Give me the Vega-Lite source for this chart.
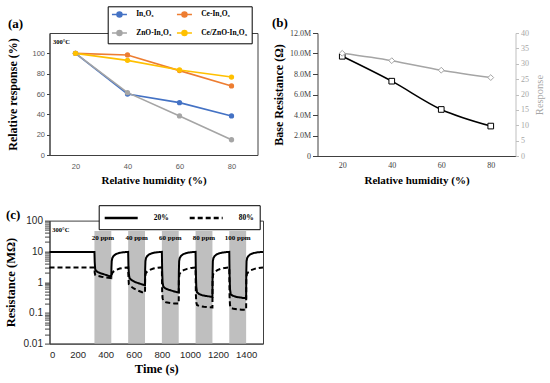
{
  "$schema": "https://vega.github.io/schema/vega-lite/v6.json",
  "background": "white",
  "padding": {"left": 3.5, "top": 5, "right": 0, "bottom": 0},
  "config": {
    "view": {"stroke": null},
    "axis": {"grid": false, "labelOverlap": false, "labelSeparation": 0, "titleFont": "Liberation Serif", "titleFontWeight": "bold", "titleColor": "#000000", "domainColor": "#404040", "tickColor": "#404040"},
    "text": {"font": "Liberation Serif", "fontWeight": "bold", "color": "#000000"}
  },
  "spacing": 17.6,
  "resolve": {"scale": {"color": "independent", "strokeDash": "independent"}, "legend": {"color": "independent", "strokeDash": "independent"}},
  "vconcat": [
    {
      "bounds": "flush",
      "spacing": 60,
      "resolve": {"scale": {"color": "independent"}, "legend": {"color": "independent"}},
      "hconcat": [
        {
          "width": 208,
          "height": 122,
          "view": {"stroke": "#404040", "strokeWidth": 1},
          "encoding": {
            "x": {"field": "rh", "type": "quantitative", "scale": {"domain": [10, 90]},
              "axis": {"values": [20, 40, 60, 80], "labelOverlap": false, "ticks": false, "labelPadding": 7, "labelFont": "Liberation Sans", "labelFontSize": 7.5, "labelColor": "#595959", "title": "Relative humidity (%)", "titleFontSize": 11, "titlePadding": 5}},
            "y": {"field": "v", "type": "quantitative", "scale": {"domain": [0, 120]},
              "axis": {"values": [0, 20, 40, 60, 80, 100], "labelOverlap": false, "tickSize": 3, "labelPadding": 2, "labelFont": "Liberation Sans", "labelFontSize": 7.5, "labelColor": "#595959", "title": "Relative response (%)", "titleFontSize": 12, "titlePadding": 12}}
          },
          "layer": [
            {
              "data": {"values": [
                {"rh": 20, "s": "In₂O₃", "v": 100}, {"rh": 40, "s": "In₂O₃", "v": 60}, {"rh": 60, "s": "In₂O₃", "v": 51.5}, {"rh": 80, "s": "In₂O₃", "v": 38.4},
                {"rh": 20, "s": "Ce-In₂O₃", "v": 100}, {"rh": 40, "s": "Ce-In₂O₃", "v": 98.4}, {"rh": 60, "s": "Ce-In₂O₃", "v": 83}, {"rh": 80, "s": "Ce-In₂O₃", "v": 67.9},
                {"rh": 20, "s": "ZnO-In₂O₃", "v": 100}, {"rh": 40, "s": "ZnO-In₂O₃", "v": 61.3}, {"rh": 60, "s": "ZnO-In₂O₃", "v": 38.4}, {"rh": 80, "s": "ZnO-In₂O₃", "v": 15},
                {"rh": 20, "s": "Ce/ZnO-In₂O₃", "v": 100}, {"rh": 40, "s": "Ce/ZnO-In₂O₃", "v": 93.1}, {"rh": 60, "s": "Ce/ZnO-In₂O₃", "v": 83.6}, {"rh": 80, "s": "Ce/ZnO-In₂O₃", "v": 76.7}
              ]},
              "mark": {"type": "line", "strokeWidth": 1.6, "point": {"filled": true, "size": 28}},
              "encoding": {
                "color": {"field": "s", "type": "nominal",
                  "scale": {"domain": ["In₂O₃", "Ce-In₂O₃", "ZnO-In₂O₃", "Ce/ZnO-In₂O₃"], "range": ["#4472C4", "#ED7D31", "#A5A5A5", "#FFC000"]},
                  "legend": {"orient": "none", "legendX": 58.2, "legendY": -26.7, "title": null, "columns": 2, "direction": "horizontal",
                    "symbolType": "M-3,0L3,0M1,0A1,1,0,1,1,-1,0A1,1,0,1,1,1,0", "symbolSize": 25, "symbolStrokeWidth": 1.5,
                    "symbolOffset": 4, "labelOffset": 13, "columnPadding": 2, "rowPadding": 7, "padding": 4,
                    "strokeColor": "#000000", "fillColor": "#FFFFFF",
                    "labelFont": "Liberation Serif", "labelFontWeight": "bold", "labelFontSize": 7.5, "labelColor": "#000000",
                    "encode": {"symbols": {"update": {"fill": {"scale": "color", "field": "value"}, "stroke": {"scale": "color", "field": "value"}}}}}}
              }
            },
            {
              "data": {"values": [{"rh": 11.3, "v": 111.5, "t": "300°C", "fs": "s"}, {"rh": -5.96, "v": 128.7, "t": "(a)", "fs": "l"}]},
              "mark": {"type": "text", "align": "left", "baseline": "middle"},
              "encoding": {"text": {"field": "t"},
                "size": {"field": "fs", "type": "nominal", "scale": {"domain": ["s", "l"], "range": [6.5, 13]}, "legend": null}}
            }
          ]
        },
        {
          "width": 198,
          "height": 123,
          "view": {"stroke": null},
          "data": {"values": [
            {"rh": 20, "br": 9.73, "resp": 33.4},
            {"rh": 40, "br": 7.3, "resp": 31.0},
            {"rh": 60, "br": 4.54, "resp": 27.9},
            {"rh": 80, "br": 2.92, "resp": 25.5}
          ]},
          "encoding": {
            "x": {"field": "rh", "type": "quantitative", "scale": {"domain": [10, 90]},
              "axis": {"values": [20, 40, 60, 80], "labelOverlap": false, "ticks": false, "labelPadding": 5, "labelFont": "Liberation Serif", "labelFontSize": 8, "labelColor": "#404040", "title": "Relative humidity (%)", "titleFontSize": 11, "titlePadding": 5}}
          },
          "layer": [
            {
              "encoding": {
                "y": {"field": "br", "type": "quantitative", "scale": {"domain": [0, 12]},
                  "axis": {"orient": "left", "values": [0, 2, 4, 6, 8, 10, 12], "labelOverlap": false, "labelExpr": "datum.value == 0 ? '0' : format(datum.value, '.1f') + 'M'", "tickSize": 5, "labelPadding": 2, "labelFont": "Liberation Serif", "labelFontSize": 8, "labelColor": "#404040", "title": "Base Resistance (Ω)", "titleFontSize": 12, "titlePadding": 4}}
              },
              "layer": [
                {"mark": {"type": "line", "color": "#000000", "strokeWidth": 1.5, "interpolate": "monotone"}},
                {"mark": {"type": "point", "shape": "square", "filled": true, "fill": "#FFFFFF", "stroke": "#000000", "strokeWidth": 1, "size": 32, "opacity": 1}},
                {
                  "data": {"values": [{"rh": -8.38, "br": 13.0, "t": "(b)"}]},
                  "mark": {"type": "text", "align": "left", "baseline": "middle", "fontSize": 13},
                  "encoding": {"text": {"field": "t"}}
                }
              ]
            },
            {
              "encoding": {
                "y": {"field": "resp", "type": "quantitative", "scale": {"domain": [0, 40]},
                  "axis": {"orient": "right", "values": [0, 5, 10, 15, 20, 25, 30, 35, 40], "labelOverlap": false, "tickSize": 3, "labelPadding": 2, "labelFont": "Liberation Serif", "labelFontSize": 8, "labelColor": "#A6A6A6", "domainColor": "#BFBFBF", "tickColor": "#BFBFBF", "title": "Response", "titleColor": "#A6A6A6", "titleFontWeight": "normal", "titleFontSize": 10.5, "titleAngle": 270, "titleBaseline": "top", "titlePadding": 6}}
              },
              "layer": [
                {"mark": {"type": "line", "color": "#A5A5A5", "strokeWidth": 1.5, "interpolate": "monotone"}},
                {"mark": {"type": "point", "shape": "diamond", "filled": true, "fill": "#FFFFFF", "stroke": "#A5A5A5", "strokeWidth": 1, "size": 34, "opacity": 1}}
              ]
            }
          ],
          "resolve": {"scale": {"y": "independent"}}
        }
      ]
    },
    {
      "width": 213.5,
      "height": 123,
      "view": {"stroke": "#404040", "strokeWidth": 1},
      "encoding": {
        "x": {"field": "t", "type": "quantitative", "scale": {"domain": [0, 1520]},
          "axis": {"values": [0, 200, 400, 600, 800, 1000, 1200, 1400], "labelOverlap": false, "format": "d", "ticks": false, "labelPadding": 6, "labelFont": "Liberation Sans", "labelFontSize": 9.5, "labelColor": "#262626", "title": "Time (s)", "titleFontSize": 12.5, "titlePadding": 3}}
      },
      "layer": [
        {
          "data": {"values": [
            {"t": 320, "t2": 440}, {"t": 560, "t2": 680}, {"t": 800, "t2": 920}, {"t": 1040, "t2": 1160}, {"t": 1280, "t2": 1400}
          ]},
          "mark": {"type": "rect", "color": "#BFBFBF"},
          "encoding": {
            "x2": {"field": "t2"},
            "y": {"datum": 46, "type": "quantitative"},
            "y2": {"datum": 0.01}
          }
        },
        {
          "data": {"values": [
            {"t": 0, "r": 9.6, "rh": "20%"}, {"t": 320, "r": 9.6, "rh": "20%"}, {"t": 322, "r": 4.5, "rh": "20%"}, {"t": 325, "r": 2.7, "rh": "20%"}, {"t": 330, "r": 2.35, "rh": "20%"}, {"t": 345, "r": 2.1, "rh": "20%"}, {"t": 370, "r": 1.9, "rh": "20%"}, {"t": 400, "r": 1.72, "rh": "20%"}, {"t": 420, "r": 1.6, "rh": "20%"}, {"t": 440, "r": 1.5, "rh": "20%"},
            {"t": 441, "r": 3.0, "rh": "20%"}, {"t": 443, "r": 4.8, "rh": "20%"}, {"t": 447, "r": 6.0, "rh": "20%"}, {"t": 455, "r": 7.0, "rh": "20%"}, {"t": 470, "r": 8.0, "rh": "20%"}, {"t": 490, "r": 8.7, "rh": "20%"}, {"t": 515, "r": 9.2, "rh": "20%"}, {"t": 540, "r": 9.45, "rh": "20%"}, {"t": 560, "r": 9.6, "rh": "20%"},
            {"t": 562, "r": 3.5, "rh": "20%"}, {"t": 565, "r": 1.8, "rh": "20%"}, {"t": 570, "r": 1.35, "rh": "20%"}, {"t": 585, "r": 1.15, "rh": "20%"}, {"t": 610, "r": 1.0, "rh": "20%"}, {"t": 640, "r": 0.9, "rh": "20%"}, {"t": 660, "r": 0.84, "rh": "20%"}, {"t": 680, "r": 0.79, "rh": "20%"},
            {"t": 681, "r": 2.5, "rh": "20%"}, {"t": 683, "r": 4.8, "rh": "20%"}, {"t": 687, "r": 6.0, "rh": "20%"}, {"t": 695, "r": 7.0, "rh": "20%"}, {"t": 710, "r": 8.0, "rh": "20%"}, {"t": 730, "r": 8.7, "rh": "20%"}, {"t": 755, "r": 9.2, "rh": "20%"}, {"t": 780, "r": 9.45, "rh": "20%"}, {"t": 800, "r": 9.6, "rh": "20%"},
            {"t": 802, "r": 2.5, "rh": "20%"}, {"t": 805, "r": 1.0, "rh": "20%"}, {"t": 810, "r": 0.72, "rh": "20%"}, {"t": 825, "r": 0.62, "rh": "20%"}, {"t": 850, "r": 0.56, "rh": "20%"}, {"t": 880, "r": 0.51, "rh": "20%"}, {"t": 900, "r": 0.48, "rh": "20%"}, {"t": 920, "r": 0.46, "rh": "20%"},
            {"t": 921, "r": 2.2, "rh": "20%"}, {"t": 923, "r": 4.8, "rh": "20%"}, {"t": 927, "r": 6.0, "rh": "20%"}, {"t": 935, "r": 7.0, "rh": "20%"}, {"t": 950, "r": 8.0, "rh": "20%"}, {"t": 970, "r": 8.7, "rh": "20%"}, {"t": 995, "r": 9.2, "rh": "20%"}, {"t": 1020, "r": 9.45, "rh": "20%"}, {"t": 1040, "r": 9.6, "rh": "20%"},
            {"t": 1042, "r": 2.0, "rh": "20%"}, {"t": 1045, "r": 0.7, "rh": "20%"}, {"t": 1050, "r": 0.47, "rh": "20%"}, {"t": 1065, "r": 0.41, "rh": "20%"}, {"t": 1090, "r": 0.37, "rh": "20%"}, {"t": 1120, "r": 0.35, "rh": "20%"}, {"t": 1140, "r": 0.34, "rh": "20%"}, {"t": 1160, "r": 0.33, "rh": "20%"},
            {"t": 1161, "r": 2.0, "rh": "20%"}, {"t": 1163, "r": 4.8, "rh": "20%"}, {"t": 1167, "r": 6.0, "rh": "20%"}, {"t": 1175, "r": 7.0, "rh": "20%"}, {"t": 1190, "r": 8.0, "rh": "20%"}, {"t": 1210, "r": 8.7, "rh": "20%"}, {"t": 1235, "r": 9.2, "rh": "20%"}, {"t": 1260, "r": 9.45, "rh": "20%"}, {"t": 1280, "r": 9.6, "rh": "20%"},
            {"t": 1282, "r": 1.8, "rh": "20%"}, {"t": 1285, "r": 0.6, "rh": "20%"}, {"t": 1290, "r": 0.4, "rh": "20%"}, {"t": 1305, "r": 0.36, "rh": "20%"}, {"t": 1330, "r": 0.33, "rh": "20%"}, {"t": 1360, "r": 0.315, "rh": "20%"}, {"t": 1380, "r": 0.305, "rh": "20%"}, {"t": 1400, "r": 0.3, "rh": "20%"},
            {"t": 1401, "r": 2.0, "rh": "20%"}, {"t": 1403, "r": 4.8, "rh": "20%"}, {"t": 1407, "r": 6.0, "rh": "20%"}, {"t": 1415, "r": 7.0, "rh": "20%"}, {"t": 1430, "r": 8.0, "rh": "20%"}, {"t": 1450, "r": 8.7, "rh": "20%"}, {"t": 1475, "r": 9.2, "rh": "20%"}, {"t": 1500, "r": 9.45, "rh": "20%"}, {"t": 1520, "r": 9.6, "rh": "20%"},
            {"t": 0, "r": 3.0, "rh": "80%"}, {"t": 320, "r": 3.0, "rh": "80%"}, {"t": 322, "r": 2.0, "rh": "80%"}, {"t": 326, "r": 1.7, "rh": "80%"}, {"t": 340, "r": 1.6, "rh": "80%"}, {"t": 370, "r": 1.5, "rh": "80%"}, {"t": 400, "r": 1.42, "rh": "80%"}, {"t": 440, "r": 1.35, "rh": "80%"},
            {"t": 441, "r": 1.6, "rh": "80%"}, {"t": 445, "r": 1.9, "rh": "80%"}, {"t": 455, "r": 2.2, "rh": "80%"}, {"t": 475, "r": 2.5, "rh": "80%"}, {"t": 500, "r": 2.75, "rh": "80%"}, {"t": 530, "r": 2.92, "rh": "80%"}, {"t": 560, "r": 3.0, "rh": "80%"},
            {"t": 562, "r": 1.5, "rh": "80%"}, {"t": 565, "r": 0.85, "rh": "80%"}, {"t": 575, "r": 0.75, "rh": "80%"}, {"t": 600, "r": 0.62, "rh": "80%"}, {"t": 630, "r": 0.53, "rh": "80%"}, {"t": 660, "r": 0.47, "rh": "80%"}, {"t": 680, "r": 0.45, "rh": "80%"},
            {"t": 681, "r": 1.5, "rh": "80%"}, {"t": 685, "r": 1.9, "rh": "80%"}, {"t": 695, "r": 2.2, "rh": "80%"}, {"t": 715, "r": 2.5, "rh": "80%"}, {"t": 740, "r": 2.75, "rh": "80%"}, {"t": 770, "r": 2.92, "rh": "80%"}, {"t": 800, "r": 3.0, "rh": "80%"},
            {"t": 802, "r": 0.5, "rh": "80%"}, {"t": 805, "r": 0.3, "rh": "80%"}, {"t": 810, "r": 0.25, "rh": "80%"}, {"t": 830, "r": 0.22, "rh": "80%"}, {"t": 860, "r": 0.21, "rh": "80%"}, {"t": 890, "r": 0.2, "rh": "80%"}, {"t": 920, "r": 0.2, "rh": "80%"},
            {"t": 921, "r": 1.2, "rh": "80%"}, {"t": 925, "r": 1.8, "rh": "80%"}, {"t": 935, "r": 2.1, "rh": "80%"}, {"t": 955, "r": 2.45, "rh": "80%"}, {"t": 980, "r": 2.7, "rh": "80%"}, {"t": 1010, "r": 2.9, "rh": "80%"}, {"t": 1040, "r": 3.0, "rh": "80%"},
            {"t": 1042, "r": 0.4, "rh": "80%"}, {"t": 1045, "r": 0.22, "rh": "80%"}, {"t": 1050, "r": 0.18, "rh": "80%"}, {"t": 1070, "r": 0.165, "rh": "80%"}, {"t": 1100, "r": 0.157, "rh": "80%"}, {"t": 1130, "r": 0.152, "rh": "80%"}, {"t": 1160, "r": 0.15, "rh": "80%"},
            {"t": 1161, "r": 1.2, "rh": "80%"}, {"t": 1165, "r": 1.8, "rh": "80%"}, {"t": 1175, "r": 2.1, "rh": "80%"}, {"t": 1195, "r": 2.45, "rh": "80%"}, {"t": 1220, "r": 2.7, "rh": "80%"}, {"t": 1250, "r": 2.9, "rh": "80%"}, {"t": 1280, "r": 3.0, "rh": "80%"},
            {"t": 1282, "r": 0.35, "rh": "80%"}, {"t": 1285, "r": 0.18, "rh": "80%"}, {"t": 1290, "r": 0.145, "rh": "80%"}, {"t": 1310, "r": 0.135, "rh": "80%"}, {"t": 1340, "r": 0.13, "rh": "80%"}, {"t": 1370, "r": 0.127, "rh": "80%"}, {"t": 1400, "r": 0.125, "rh": "80%"},
            {"t": 1401, "r": 1.2, "rh": "80%"}, {"t": 1405, "r": 1.8, "rh": "80%"}, {"t": 1415, "r": 2.1, "rh": "80%"}, {"t": 1435, "r": 2.45, "rh": "80%"}, {"t": 1460, "r": 2.7, "rh": "80%"}, {"t": 1490, "r": 2.9, "rh": "80%"}, {"t": 1520, "r": 3.0, "rh": "80%"}
          ]},
          "mark": {"type": "line", "color": "#000000", "strokeWidth": 2},
          "encoding": {
            "y": {"field": "r", "type": "quantitative", "scale": {"type": "log", "domain": [0.01, 100]},
              "axis": {"values": [0.01, 0.02, 0.03, 0.04, 0.05, 0.06, 0.07, 0.08, 0.09, 0.1, 0.2, 0.3, 0.4, 0.5, 0.6, 0.7, 0.8, 0.9, 1, 2, 3, 4, 5, 6, 7, 8, 9, 10, 20, 30, 40, 50, 60, 70, 80, 90, 100],
                "labelOverlap": false, "format": "~g", "labelExpr": "indexof([0.01, 0.1, 1, 10, 100], datum.value) >= 0 ? datum.label : ''",
                "tickSize": 5, "labelPadding": 2, "labelFont": "Liberation Sans", "labelFontSize": 10, "labelColor": "#262626",
                "title": "Resistance (MΩ)", "titleFontSize": 12.5, "titlePadding": 6,
                "encode": {"ticks": {"update": {"x2": {"signal": "indexof([0.01, 0.1, 1, 10, 100], datum.value) >= 0 ? -5 : -2.5"}}}}}},
            "strokeDash": {"field": "rh", "type": "nominal",
              "scale": {"domain": ["20%", "80%"], "range": [[1, 0], [5, 3]]},
              "legend": {"orient": "none", "legendX": 49.2, "legendY": -15.4, "title": null, "direction": "horizontal",
                "symbolType": "M-3.3,0L3.3,0", "symbolSize": 100, "symbolStrokeWidth": 2.5, "symbolStrokeColor": "#000000",
                "symbolOffset": 10, "labelOffset": 26, "columnPadding": 16, "padding": 6,
                "strokeColor": "#000000", "fillColor": "#FFFFFF",
                "labelFont": "Liberation Serif", "labelFontWeight": "bold", "labelFontSize": 7.5, "labelColor": "#000000"}}
          }
        },
        {
          "data": {"values": [
            {"t": 380, "label": "20 ppm"}, {"t": 620, "label": "40 ppm"}, {"t": 860, "label": "60 ppm"}, {"t": 1100, "label": "80 ppm"}, {"t": 1340, "label": "100 ppm"}
          ]},
          "mark": {"type": "text", "align": "center", "baseline": "middle", "fontSize": 7},
          "encoding": {"y": {"datum": 27}, "text": {"field": "label"}}
        },
        {
          "data": {"values": [{"t": 20, "r": 51, "label": "300°C", "fs": "s"}, {"t": -309.7, "r": 153, "label": "(c)", "fs": "l"}]},
          "mark": {"type": "text", "align": "left", "baseline": "middle"},
          "encoding": {"y": {"field": "r", "type": "quantitative"}, "text": {"field": "label"},
            "size": {"field": "fs", "type": "nominal", "scale": {"domain": ["s", "l"], "range": [8, 13]}, "legend": null}}
        }
      ]
    }
  ]
}
